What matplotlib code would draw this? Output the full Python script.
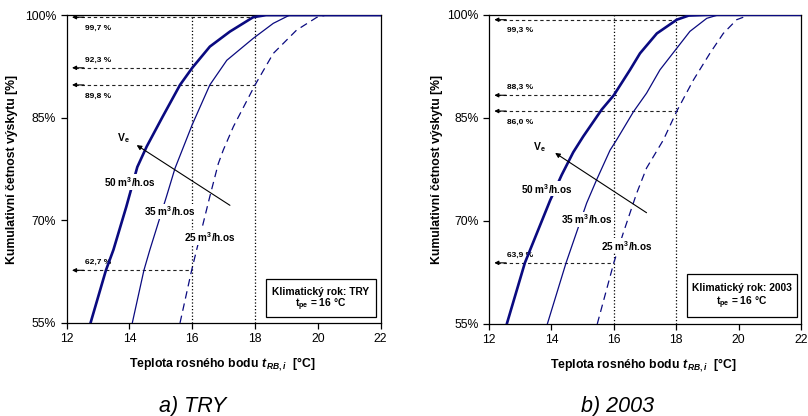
import numpy as np
import matplotlib
matplotlib.use("Agg")
import matplotlib.pyplot as plt
from matplotlib.patches import Rectangle
from matplotlib.ticker import FuncFormatter

# ------------------------------------------------------------------
# Data
# ------------------------------------------------------------------
# a) TRY
try_t50 = [12.76, 13.25, 13.49, 13.9, 14.25, 14.55, 15.05, 15.61, 16.0, 16.56, 17.2, 17.94, 18.35, 19.0, 22.0]
try_p50 = [55.0, 62.7, 65.7, 72.0, 77.8, 80.8, 85.1, 89.8, 92.3, 95.4, 97.6, 99.7, 100.0, 100.0, 100.0]
try_t35 = [14.09, 14.46, 14.65, 15.18, 15.45, 16.0, 16.56, 17.1, 17.94, 18.58, 19.1, 20.0, 22.0]
try_p35 = [55.0, 62.7, 65.7, 73.5, 77.6, 84.0, 89.8, 93.4, 96.6, 98.8, 100.0, 100.0, 100.0]
try_t25 = [15.61, 15.98, 16.14, 16.56, 16.83, 16.99, 17.31, 18.0, 18.58, 19.32, 19.96, 20.25, 22.0]
try_p25 = [55.0, 62.7, 65.7, 73.5, 78.3, 80.3, 83.7, 89.8, 94.4, 97.8, 99.66, 100.0, 100.0]

# b) 2003
y03_t50 = [12.57, 13.15, 13.96, 14.33, 14.7, 15.02, 15.61, 16.0, 16.52, 16.84, 17.38, 18.02, 18.4, 19.0, 22.0]
y03_p50 = [55.0, 63.9, 73.0, 76.7, 80.0, 82.3, 86.2, 88.3, 92.0, 94.4, 97.3, 99.3, 99.9, 100.0, 100.0]
y03_t35 = [13.87, 14.47, 15.13, 15.45, 15.88, 16.09, 16.63, 17.05, 17.48, 18.02, 18.44, 18.98, 19.35, 22.0]
y03_p35 = [55.0, 63.9, 72.6, 76.0, 80.3, 81.8, 85.9, 88.6, 92.0, 95.15, 97.6, 99.5, 100.0, 100.0]
y03_t25 = [15.47, 16.0, 16.3, 16.73, 17.05, 17.59, 18.02, 18.55, 19.08, 19.51, 19.94, 20.35, 22.0]
y03_p25 = [55.0, 63.9, 68.2, 74.0, 77.7, 81.8, 86.0, 90.5, 94.4, 97.3, 99.3, 100.0, 100.0]

# reference readings: (percent, temperature where arrow starts, label above?)
try_marks = [(99.7, 18.0, False), (92.3, 16.0, True), (89.8, 18.0, False), (62.7, 16.0, True)]
y03_marks = [(99.3, 18.0, False), (88.3, 16.1, True), (86.0, 18.05, False), (63.9, 16.0, True)]

flow_labels = ["50 m$^3$/h.os", "35 m$^3$/h.os", "25 m$^3$/h.os"]
years = ["TRY", "2003"]
captions = ["a) TRY", "b) 2003"]

# ------------------------------------------------------------------
# Style
# ------------------------------------------------------------------
plt.rcParams["font.family"] = ["Liberation Sans", "DejaVu Sans"]
plt.rcParams["mathtext.fontset"] = "custom"
plt.rcParams["mathtext.rm"] = "Liberation Sans:bold"
plt.rcParams["mathtext.bf"] = "Liberation Sans:bold"
plt.rcParams["mathtext.it"] = "Liberation Sans:italic:bold"
navy = "#0a0a80"

fig = plt.figure(figsize=(8.08, 4.16), dpi=100)
axes = [
    fig.add_axes([0.0825, 0.2236, 0.3886, 0.740]),
    fig.add_axes([0.6052, 0.2212, 0.3861, 0.743]),
]

panels = [
    (try_t50, try_p50, try_t35, try_p35, try_t25, try_p25, try_marks),
    (y03_t50, y03_p50, y03_t35, y03_p35, y03_t25, y03_p25, y03_marks),
]
label_pos = [
    [(14.02, 75.6), (15.29, 71.3), (16.56, 67.5)],
    [(13.85, 74.7), (15.15, 70.2), (16.41, 66.4)],
]
ve_arrow = [((17.2, 72.2), (14.23, 81.0), (13.8, 82.0)),
            ((17.05, 71.2), (14.12, 79.9), (13.63, 80.8))]
box_ext = [(0.635, 0.019, 0.349, 0.124), (0.636, 0.023, 0.350, 0.139)]
ylab_x = [-0.155, -0.147]

for k, ax in enumerate(axes):
    t50, p50, t35, p35, t25, p25, marks = panels[k]

    # reference lines
    for xv in (16, 18):
        ax.plot([xv, xv], [55, 100], ls=":", color="black", lw=0.9, zorder=1)
    for pv, tv, above in marks:
        ax.plot([12.25, tv], [pv, pv], ls=(0, (3, 2.5)), color="#222222", lw=0.8, zorder=1)
        ax.annotate("", xy=(12.17, pv), xytext=(12.55, pv),
                    arrowprops=dict(arrowstyle="-|>", color="black", lw=0.8,
                                    mutation_scale=6, shrinkA=0, shrinkB=0))
        ax.annotate(f"{pv:.1f} %".replace(".", ","), xy=(12.58, pv),
                    xytext=(0, 5.5 if above else -8), textcoords="offset points",
                    fontsize=6, fontweight="bold", va="center", ha="left")

    # curves
    ax.plot(t50, p50, color=navy, lw=1.9, zorder=3)
    ax.plot(t35, p35, color=navy, lw=0.9, zorder=3)
    ax.plot(t25, p25, color=navy, lw=0.9, ls=(0, (6, 4)), zorder=3)

    for (lx, ly), txt in zip(label_pos[k], flow_labels):
        ax.text(lx, ly, txt, fontsize=7.2, fontweight="bold", ha="center", va="center",
                zorder=4, bbox=dict(facecolor="white", edgecolor="none", pad=0.5))

    tail, head, vpos = ve_arrow[k]
    ax.annotate("", xy=head, xytext=tail,
                arrowprops=dict(arrowstyle="-|>", color="black", lw=0.8,
                                mutation_scale=7, shrinkA=0, shrinkB=0), zorder=5)
    ax.text(vpos[0], vpos[1], "V$_\\mathrm{e}$", fontsize=7.5, fontweight="bold",
            ha="center", va="center", zorder=5)

    # info box
    bx, by, bw, bh = box_ext[k]
    ax.add_patch(Rectangle((bx, by), bw, bh, transform=ax.transAxes, facecolor="white",
                           edgecolor="black", lw=0.9, zorder=6))
    ax.text(bx + bw / 2, by + bh * 0.67, f"Klimatický rok: {years[k]}", transform=ax.transAxes,
            fontsize=7.4, fontweight="bold", ha="center", va="center", zorder=7)
    ax.text(bx + bw / 2, by + bh * 0.32, "t$_{\\mathrm{pe}}$ = 16 °C", transform=ax.transAxes,
            fontsize=7.4, fontweight="bold", ha="center", va="center", zorder=7)

    # axes
    ax.set_xlim(12, 22)
    ax.set_ylim(55, 100)
    ax.set_xticks(range(12, 23, 2))
    ax.set_yticks([55, 70, 85, 100])
    ax.yaxis.set_major_formatter(FuncFormatter(lambda v, p: f"{v:.0f}%"))
    ax.tick_params(direction="out", length=4, width=0.9, labelsize=8.8, top=False, right=False)
    for sp in ax.spines.values():
        sp.set_linewidth(0.9)
    ax.set_xlabel("Teplota rosného bodu $t_{\\,RB,i}$  [°C]", fontsize=8.8, fontweight="bold")
    ax.xaxis.set_label_coords(0.495, -0.105)
    ax.set_ylabel("Kumulativní četnost výskytu [%]", fontsize=8.8, fontweight="bold")
    ax.yaxis.set_label_coords(ylab_x[k], 0.5)

fig.text(0.239, 0.024, captions[0], fontsize=15.5, style="italic", family="Liberation Sans",
         ha="center", va="center")
fig.text(0.764, 0.024, captions[1], fontsize=15.5, style="italic", family="Liberation Sans",
         ha="center", va="center")

fig.savefig("out.png", dpi=100)
